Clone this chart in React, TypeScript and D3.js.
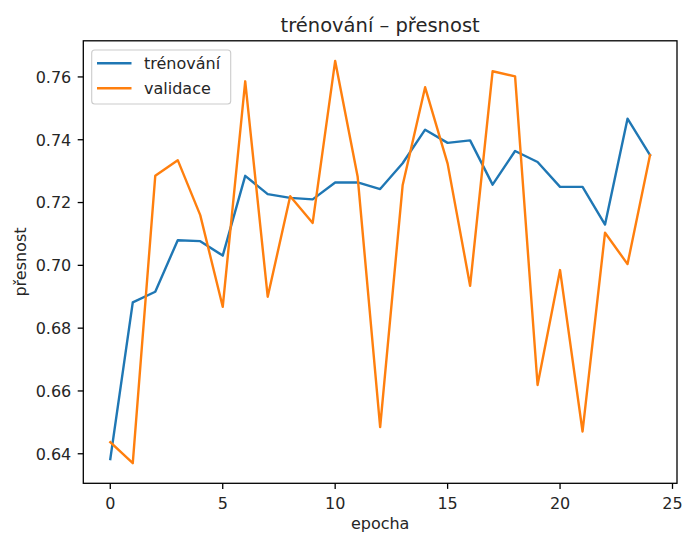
import { useEffect, useRef } from "react";
import * as d3 from "d3";

const epochs = d3.range(0, 25);
const training = [
    0.6383, 0.6882, 0.6916, 0.7080, 0.7077, 0.7031, 0.7285, 0.7227, 0.7215, 0.7210,
    0.7264, 0.7264, 0.7243, 0.7325, 0.7432, 0.7390, 0.7398, 0.7257, 0.7364, 0.7329,
    0.7250, 0.7250, 0.7130, 0.7467, 0.7351,
];
const validation = [
    0.6437, 0.6370, 0.7285, 0.7335, 0.7160, 0.6868, 0.7586, 0.6900, 0.7220, 0.7135,
    0.7651, 0.7282, 0.6485, 0.7255, 0.7567, 0.7324, 0.6935, 0.7618, 0.7602, 0.6619,
    0.6985, 0.6471, 0.7104, 0.7004, 0.7351,
];
const xTicks = [0, 5, 10, 15, 20, 25];
const yTicks = [0.64, 0.66, 0.68, 0.70, 0.72, 0.74, 0.76];
const seriesNames = ["trénování", "validace"];
const colors = ["#1f77b4", "#ff7f0e"];

export default function App() {
    const ref = useRef<SVGSVGElement>(null);

    useEffect(() => {
        const width = 682;
        const height = 533;
        const left = 83.3, right = 677, top = 40.8, bottom = 483.3;
        const font = "DejaVu Sans";

        const svg = d3.select(ref.current)
            .attr("width", width)
            .attr("height", height);
        svg.selectAll("*").remove();

        // matplotlib-like 5% margins
        const x = d3.scaleLinear().domain([-1.2, 25.2]).range([left, right]);
        const all = training.concat(validation);
        const lo = d3.min(all)!, hi = d3.max(all)!;
        const pad = (hi - lo) * 0.05;
        const y = d3.scaleLinear().domain([lo - pad, hi + pad]).range([bottom, top]);

        const line = d3.line<number>()
            .x((_, i) => x(epochs[i]))
            .y(d => y(d));

        [training, validation].forEach((s, k) => {
            svg.append("path")
                .datum(s)
                .attr("fill", "none")
                .attr("stroke", colors[k])
                .attr("stroke-width", 2.4)
                .attr("stroke-linejoin", "round")
                .attr("stroke-linecap", "square")
                .attr("d", line);
        });

        // frame
        svg.append("rect")
            .attr("x", left).attr("y", top)
            .attr("width", right - left).attr("height", bottom - top)
            .attr("fill", "none").attr("stroke", "black").attr("stroke-width", 1.3);

        // x ticks
        const xt = svg.append("g");
        xTicks.forEach(t => {
            xt.append("line")
                .attr("x1", x(t)).attr("x2", x(t))
                .attr("y1", bottom).attr("y2", bottom + 5.6)
                .attr("stroke", "black").attr("stroke-width", 1.3);
            xt.append("text")
                .attr("x", x(t)).attr("y", bottom + 25.3)
                .attr("text-anchor", "middle")
                .attr("font-family", font).attr("font-size", 16)
                .attr("fill", "#262626")
                .text(String(t));
        });

        // y ticks
        const yt = svg.append("g");
        yTicks.forEach(t => {
            yt.append("line")
                .attr("x1", left - 5.6).attr("x2", left)
                .attr("y1", y(t)).attr("y2", y(t))
                .attr("stroke", "black").attr("stroke-width", 1.3);
            yt.append("text")
                .attr("x", left - 12).attr("y", y(t) + 5.8)
                .attr("text-anchor", "end")
                .attr("font-family", font).attr("font-size", 16)
                .attr("fill", "#262626")
                .text(t.toFixed(2));
        });

        // title and labels
        svg.append("text")
            .attr("x", (left + right) / 2).attr("y", 31.7)
            .attr("text-anchor", "middle")
            .attr("font-family", font).attr("font-size", 19.5)
            .attr("fill", "#262626")
            .text("trénování – přesnost");

        svg.append("text")
            .attr("x", (left + right) / 2).attr("y", 529)
            .attr("text-anchor", "middle")
            .attr("font-family", font).attr("font-size", 16)
            .attr("fill", "#262626")
            .text("epocha");

        svg.append("text")
            .attr("transform", `translate(25.5,${(top + bottom) / 2}) rotate(-90)`)
            .attr("text-anchor", "middle")
            .attr("font-family", font).attr("font-size", 16)
            .attr("fill", "#262626")
            .text("přesnost");

        // legend
        const lg = svg.append("g");
        lg.append("rect")
            .attr("x", 91.7).attr("y", 50)
            .attr("width", 139).attr("height", 54)
            .attr("rx", 3)
            .attr("fill", "white").attr("fill-opacity", 0.8)
            .attr("stroke", "#cccccc").attr("stroke-width", 1.1);
        seriesNames.forEach((name, k) => {
            const cy = 63.3 + k * 25;
            lg.append("line")
                .attr("x1", 97).attr("x2", 131.5)
                .attr("y1", cy).attr("y2", cy)
                .attr("stroke", colors[k]).attr("stroke-width", 2.4);
            lg.append("text")
                .attr("x", 144).attr("y", cy + 5.4)
                .attr("font-family", font).attr("font-size", 16)
                .attr("fill", "#262626")
                .text(name);
        });
    }, []);

    return (
        <svg ref={ref} style={{ position: "absolute", left: 0, top: 0, display: "block" }}></svg>
    );
}
